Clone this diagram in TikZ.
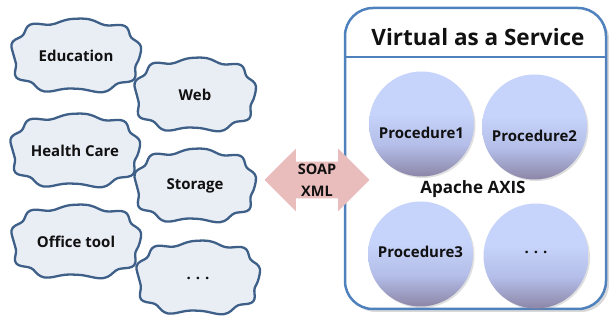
\documentclass[tikz,border=0pt]{standalone}
\usepackage{fontspec}
\setmainfont{Open Sans}
\usetikzlibrary{shapes,arrows.meta,positioning,shadows}
\definecolor{cloudline}{HTML}{3E5F88}
\definecolor{cloudfill}{HTML}{E9EDF4}
\definecolor{panelline}{HTML}{4F81BD}
\definecolor{proctop}{HTML}{C6D3FA}
\definecolor{procmid}{HTML}{B4BEE8}
\definecolor{procbot}{HTML}{8C86A8}
\definecolor{soappink}{HTML}{E8BDBC}
\definecolor{textdark}{HTML}{111111}
\pgfdeclareverticalshading{procshade}{100bp}{color(0bp)=(procbot); color(25bp)=(procbot); color(40bp)=(procmid); color(55bp)=(proctop); color(75bp)=(proctop); color(100bp)=(proctop)}
\newcommand{\spdots}{.\hspace{5pt}.\hspace{5pt}.}
% wavy blob behind a label: name, position, half width, half height, text
\newcommand{\appcloud}[5]{%
  \draw[cloudedge, shift={(#2)}] plot[smooth cycle, samples=90, domain=0:356, variable=\t]
    ({(#3)*sign(cos(\t))*pow(abs(cos(\t)),0.74)*(1+0.04*sin(9*\t+20))},
     {(#4)*sign(sin(\t))*pow(abs(sin(\t)),0.74)*(1+0.07*sin(9*\t+20))});
  \node[cloudtext] (#1) at (#2) {#5};}

\begin{document}
\begin{tikzpicture}[x=1pt, y=1pt,
    cloudedge/.style={draw=cloudline, fill=cloudfill, line width=2.3pt},
    cloudtext/.style={font=\fontsize{15}{18}\selectfont\bfseries, text=textdark},
    proc/.style={circle, minimum size=105pt, shading=procshade, drop shadow={opacity=0.25, shadow xshift=1.5pt, shadow yshift=-1.5pt}},
    proclabel/.style={font=\fontsize{15}{18}\selectfont\bfseries, text=textdark},
  ]
    \useasboundingbox (0,0) rectangle (614,-320);

    % application domains on the left
    \appcloud{edu}{76,-56}{63}{35}{Education}
    \appcloud{web}{195,-95}{59}{35}{Web}
    \appcloud{health}{75,-151}{63}{35}{Health Care}
    \appcloud{storage}{195,-186}{59}{35}{Storage}
    \appcloud{office}{76,-242}{63}{35}{Office tool}
    \appcloud{more}{198,-278}{60}{35}{\spdots}

    % service container
    \node[draw=panelline, fill=white, line width=2.5pt, rounded corners=28pt, minimum width=261pt, minimum height=301pt, drop shadow={opacity=0.3, shadow xshift=3pt, shadow yshift=-3pt}] (panel) at (475.5,-158.5) {};
    \coordinate (sep) at (344,-57);
    \draw[panelline, line width=2.5pt] (sep) -- (sep -| panel.east);
    \node[font=\fontsize{22.5}{26}\selectfont\bfseries, text=textdark] (title) at (478,-37) {Virtual as a Service};

    \node[proc, label={[proclabel, yshift=-9pt]center:Procedure1}] (p1) at (421.5,-124) {};
    \node[proc, label={[proclabel, yshift=-9pt]center:Procedure2}] (p2) at (534.5,-127) {};
    \node[proc, label={[proclabel, yshift=2pt]center:Procedure3}] (p3) at (420.5,-254) {};
    \node[proc, label={[proclabel, yshift=4pt]center:\spdots}] (p4) at (536,-256) {};
    \node[font=\fontsize{17}{20}\selectfont\bfseries, text=textdark] (axis) at (473,-189) {Apache AXIS};

    % message exchange
    \node[double arrow, fill=soappink, double arrow head extend=13pt, minimum height=105pt, inner sep=2pt, align=center, font=\fontsize{14.5}{22}\selectfont\bfseries, text=textdark] (soap) at (317,-180) {SOAP\\XML};
  \end{tikzpicture}
\end{document}
